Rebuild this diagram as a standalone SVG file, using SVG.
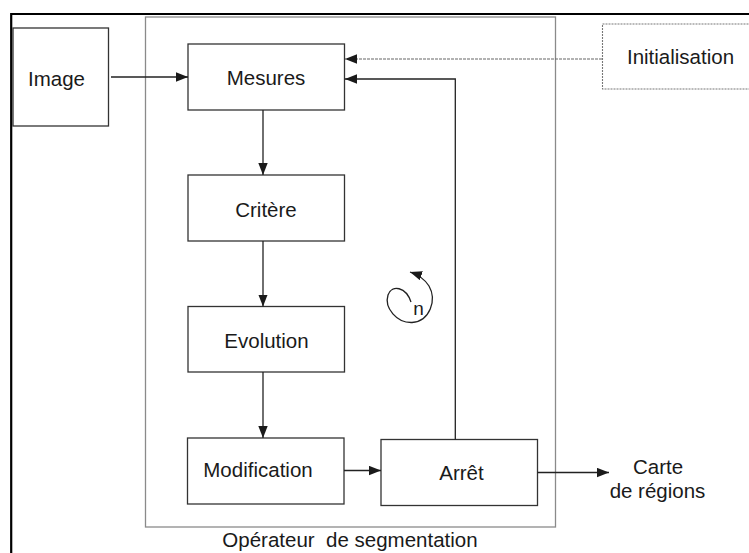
<svg xmlns="http://www.w3.org/2000/svg" width="749" height="553" viewBox="0 0 749 553">
<defs>
<marker id="ah" viewBox="0 0 12 10" refX="12" refY="5" markerWidth="12" markerHeight="10" markerUnits="userSpaceOnUse" orient="auto">
<path d="M0,0.3 L12,5 L0,9.7 Z" fill="#1a1a1a"/>
</marker>
<style>
text{font-family:"Liberation Sans",Arial,sans-serif;font-size:20.5px;fill:#1a1a1a;text-anchor:middle}
.box{fill:#fff;stroke:#333;stroke-width:1.3}
.con{fill:none;stroke:#222;stroke-width:1.3}
</style>
</defs>
<rect width="749" height="553" fill="#fff"/>
<path d="M11.2,553 V14 H749" fill="none" stroke="#000" stroke-width="2.2"/>
<g id="operateur">
<rect x="145.5" y="17" width="410" height="510" fill="none" stroke="#8a8a8a" stroke-width="1.3"/>
<text x="350" y="547" xml:space="preserve">Opérateur  de segmentation</text>
</g>
<g id="image"><rect class="box" x="13" y="28" width="95.5" height="98" stroke="#555"/><text x="56.5" y="86">Image</text></g>
<g id="initialisation"><rect x="602.5" y="24" width="160" height="65" fill="#fff" stroke="#777" stroke-width="1.1" stroke-dasharray="2,1"/><text x="680.5" y="64">Initialisation</text></g>
<g id="mesures"><rect class="box" x="188" y="44" width="156.5" height="66"/><text x="266" y="85">Mesures</text></g>
<g id="critere"><rect class="box" x="188" y="175" width="156.5" height="66"/><text x="266" y="217">Critère</text></g>
<g id="evolution"><rect class="box" x="188" y="306.5" width="156.5" height="65.5"/><text x="266.5" y="348">Evolution</text></g>
<g id="modification"><rect class="box" x="187.5" y="438" width="156.5" height="66"/><text x="258" y="477">Modification</text></g>
<g id="arret"><rect class="box" x="381" y="439.5" width="156.5" height="66"/><text x="461.5" y="480">Arrêt</text></g>
<g id="carte"><text x="658" y="474">Carte</text><text x="657.5" y="497.5">de régions</text></g>
<g id="boucle">
<path class="con" d="M411,302 C406,287 392,284 388,295 C384,308 397,323 412,322.5 C430,321 437,300 429,286 C424,278 416,274 410,272" marker-end="url(#ah)"/>
<text x="418.5" y="314.5" style="font-size:19px">n</text>
</g>
<g id="connectors">
<line class="con" x1="111" y1="77" x2="188" y2="77" marker-end="url(#ah)"/>
<line x1="602" y1="59" x2="345" y2="59" fill="none" stroke="#666" stroke-width="1.2" stroke-dasharray="3,1" marker-end="url(#ah)"/>
<path class="con" d="M455.3,439.5 V79 H345" marker-end="url(#ah)"/>
<line class="con" x1="263" y1="110" x2="263" y2="175" marker-end="url(#ah)"/>
<line class="con" x1="263" y1="241" x2="263" y2="306.5" marker-end="url(#ah)"/>
<line class="con" x1="263" y1="372" x2="263" y2="438" marker-end="url(#ah)"/>
<line class="con" x1="344" y1="470.5" x2="381" y2="470.5" marker-end="url(#ah)"/>
<line class="con" x1="537.5" y1="472.5" x2="609" y2="472.5" marker-end="url(#ah)"/>
</g>
</svg>
